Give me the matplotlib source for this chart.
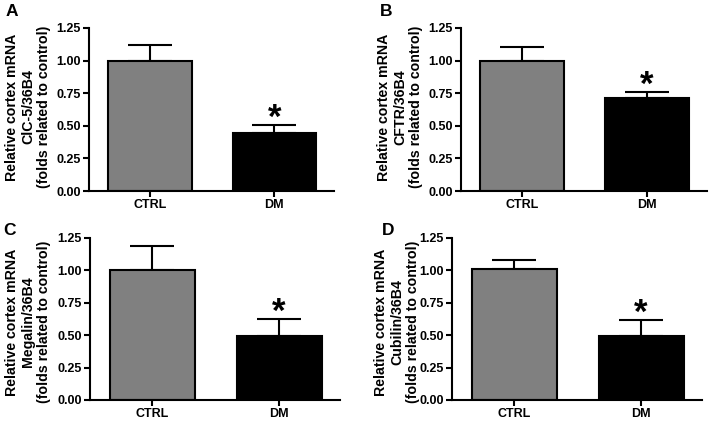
import matplotlib
matplotlib.use("Agg")
import matplotlib.pyplot as plt

plt.rcParams['font.family'] = ['Liberation Sans', 'DejaVu Sans']
plt.rcParams['font.weight'] = 'bold'

categories = ["CTRL", "DM"]
panel_letters = ["A", "B", "C", "D"]
genes = ["ClC-5/36B4", "CFTR/36B4", "Megalin/36B4", "Cubilin/36B4"]
means_A = [1.00, 0.445]
sems_A = [0.12, 0.06]
means_B = [1.00, 0.715]
sems_B = [0.105, 0.045]
means_C = [1.00, 0.49]
sems_C = [0.19, 0.135]
means_D = [1.01, 0.495]
sems_D = [0.07, 0.125]
yticks = [0.00, 0.25, 0.50, 0.75, 1.00, 1.25]
bar_colors = ["#808080", "#000000"]

W, H = 709, 429
fig = plt.figure(figsize=(W / 100, H / 100), dpi=100)

# axes rectangles in pixels: left, right, top, bottom
rects = [(89, 334, 28, 191), (461, 707, 28, 191), (90, 340, 238, 400), (452, 702, 238, 400)]
label_pos = [(28, 107), (400, 107), (28, 322), (397, 322)]
letter_pos = [(12, 12), (386, 12), (9, 230), (388, 230)]
data = [(means_A, sems_A), (means_B, sems_B), (means_C, sems_C), (means_D, sems_D)]

for i in range(4):
    l, r, t, b = rects[i]
    ax = fig.add_axes([l / W, 1 - b / H, (r - l) / W, (b - t) / H])
    means, sems = data[i]
    x = [0, 1]
    ax.bar(x, means, width=0.67, color=bar_colors, edgecolor="black", linewidth=1.5, zorder=2)
    ax.errorbar(x, means, yerr=[[0, 0], sems], fmt="none", ecolor="black",
                elinewidth=1.5, capsize=16, capthick=1.5, zorder=1)
    ax.annotate("*", xy=(1, means[1] + sems[1]), xytext=(0, -7),
                textcoords="offset points", ha="center", va="bottom",
                fontsize=25, fontweight="bold")
    ax.set_xlim(-0.49, 1.48)
    ax.set_ylim(0, 1.25)
    ax.set_yticks(yticks)
    ax.set_yticklabels([f"{v:.2f}" for v in yticks], fontsize=9, fontweight="bold")
    ax.set_xticks(x)
    ax.set_xticklabels(categories, fontsize=9, fontweight="bold")
    for s in ["top", "right"]:
        ax.spines[s].set_visible(False)
    for s in ["left", "bottom"]:
        ax.spines[s].set_linewidth(1.5)
    ax.tick_params(width=1.5, length=4, direction="out", pad=2)
    lx, ly = label_pos[i]
    fig.text(lx / W, 1 - ly / H,
             "Relative cortex mRNA\n" + genes[i] + "\n(folds related to control)",
             rotation=90, ha="center", va="center", multialignment="center",
             fontsize=10.2, fontweight="bold", linespacing=1.15)
    px, py = letter_pos[i]
    fig.text(px / W, 1 - py / H, panel_letters[i], ha="center", va="center",
             fontsize=12.5, fontweight="bold")

fig.savefig("out.png", dpi=100)
